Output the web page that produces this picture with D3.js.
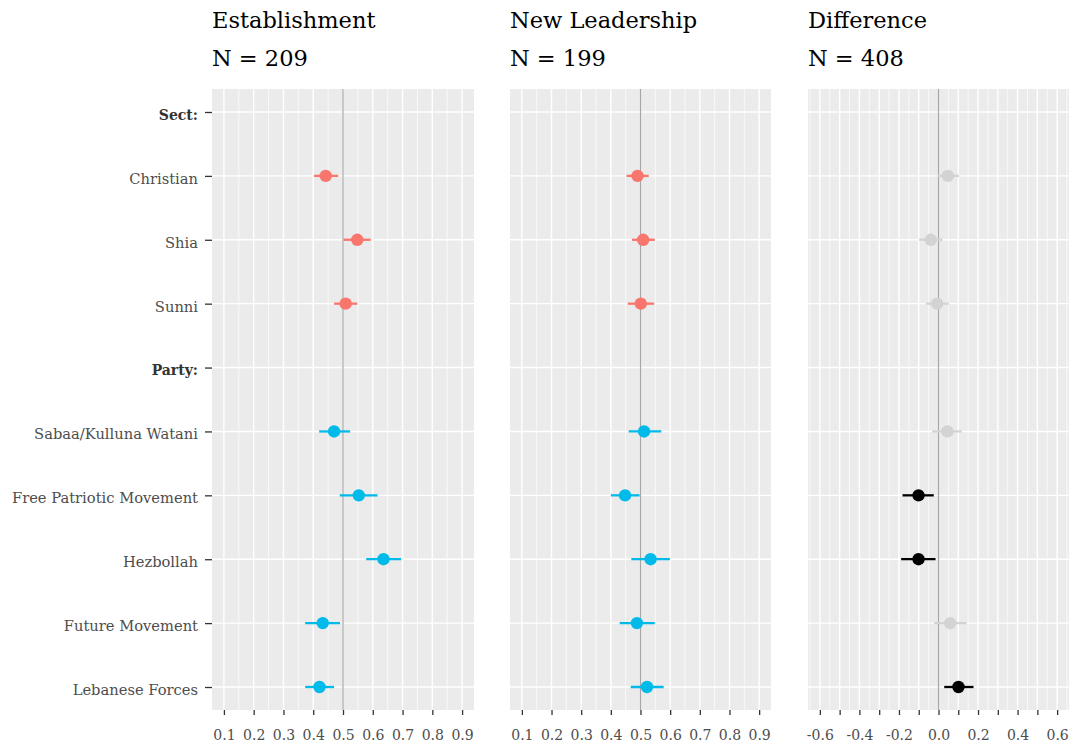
<!DOCTYPE html>
<html>
<head>
<meta charset="utf-8">
<script src="https://cdn.jsdelivr.net/npm/d3@7"></script>
<style>
  html, body { margin: 0; padding: 0; background: #ffffff; }
  svg { display: block; }
  text { font-family: "DejaVu Serif", "Liberation Serif", serif; }
</style>
</head>
<body>
<svg id="chart" width="1073" height="746"></svg>
<script>
// Rows from top to bottom; header rows carry no estimate.
const categories = ["Sect:", "Christian", "Shia", "Sunni", "Party:",
  "Sabaa/Kulluna Watani", "Free Patriotic Movement", "Hezbollah",
  "Future Movement", "Lebanese Forces"];
const headerRows = ["Sect:", "Party:"];
const rowGroup = ["", "sect", "sect", "sect", "", "party", "party", "party", "party", "party"];

// Establishment estimates with confidence bounds
const estMean = [null, 0.442, 0.548, 0.509, null, 0.470, 0.553, 0.636, 0.432, 0.421];
const estLow  = [null, 0.403, 0.502, 0.470, null, 0.420, 0.489, 0.578, 0.373, 0.373];
const estHigh = [null, 0.484, 0.593, 0.548, null, 0.524, 0.616, 0.695, 0.490, 0.470];

// New Leadership estimates with confidence bounds
const newMean = [null, 0.490, 0.509, 0.501, null, 0.512, 0.448, 0.534, 0.488, 0.522];
const newLow  = [null, 0.453, 0.471, 0.457, null, 0.460, 0.400, 0.469, 0.430, 0.467];
const newHigh = [null, 0.528, 0.548, 0.546, null, 0.570, 0.497, 0.599, 0.548, 0.578];

// Difference (New Leadership minus Establishment) with confidence bounds
const diffMean = [null, 0.047, -0.039, -0.007, null, 0.045, -0.101, -0.101, 0.059, 0.101];
const diffLow  = [null, -0.005, -0.098, -0.064, null, -0.032, -0.182, -0.189, -0.022, 0.029];
const diffHigh = [null, 0.104, 0.020, 0.052, null, 0.118, -0.024, -0.015, 0.142, 0.177];
const diffSignificant = [null, false, false, false, null, false, true, true, false, true];

const panelTitles = ["Establishment", "New Leadership", "Difference"];
const panelN = [209, 199, 408];

const probTicks = [0.1, 0.2, 0.3, 0.4, 0.5, 0.6, 0.7, 0.8, 0.9];
const probMinor = [0.15, 0.25, 0.35, 0.45, 0.55, 0.65, 0.75, 0.85];
const diffTicks = [-0.6, -0.5, -0.4, -0.3, -0.2, -0.1, 0, 0.1, 0.2, 0.3, 0.4, 0.5, 0.6];
const diffTickLabels = ["-0.6", "", "-0.4", "", "-0.2", "", "0.0", "", "0.2", "", "0.4", "", "0.6"];
const diffMinor = [-0.65, -0.55, -0.45, -0.35, -0.25, -0.15, -0.05, 0.05, 0.15, 0.25, 0.35, 0.45, 0.55, 0.65];

const groupColor = { sect: "#F8766D", party: "#00BAEA" };
const diffColor = sig => sig ? "#000000" : "#D3D3D3";

const svg = d3.select("#chart");
const panelTop = 89, panelBottom = 710;

const y = d3.scalePoint().domain(categories).range([panelTop, panelBottom]).padding(0.36);

function buildRows(mean, low, high) {
  return categories.map((c, i) => ({ cat: c, i, mean: mean[i], low: low[i], high: high[i] }))
    .filter(d => d.mean !== null);
}

const panels = [
  { left: 212, right: 474, domain: [0.06, 0.94], ref: 0.5, ticks: probTicks, labels: probTicks.map(d3.format(".1f")),
    minor: probMinor, rows: buildRows(estMean, estLow, estHigh), color: d => groupColor[rowGroup[d.i]], yAxis: true },
  { left: 510, right: 771, domain: [0.06, 0.94], ref: 0.5, ticks: probTicks, labels: probTicks.map(d3.format(".1f")),
    minor: probMinor, rows: buildRows(newMean, newLow, newHigh), color: d => groupColor[rowGroup[d.i]], yAxis: false },
  { left: 808, right: 1069, domain: [-0.66, 0.66], ref: 0, ticks: diffTicks, labels: diffTickLabels,
    minor: diffMinor, rows: buildRows(diffMean, diffLow, diffHigh), color: d => diffColor(diffSignificant[d.i]), yAxis: false }
];

panels.forEach((p, k) => {
  const x = d3.scaleLinear().domain(p.domain).range([p.left, p.right]);
  const g = svg.append("g");

  // panel background
  g.append("rect").attr("x", p.left).attr("y", panelTop)
    .attr("width", p.right - p.left).attr("height", panelBottom - panelTop).attr("fill", "#EBEBEB");

  // minor vertical grid
  g.selectAll(".minor").data(p.minor).join("line")
    .attr("x1", d => x(d)).attr("x2", d => x(d)).attr("y1", panelTop).attr("y2", panelBottom)
    .attr("stroke", "#ffffff").attr("stroke-width", 0.7);

  // major vertical grid
  g.selectAll(".majorx").data(p.ticks).join("line")
    .attr("x1", d => x(d)).attr("x2", d => x(d)).attr("y1", panelTop).attr("y2", panelBottom)
    .attr("stroke", "#ffffff").attr("stroke-width", 1.4);

  // horizontal grid at each row
  g.selectAll(".majory").data(categories).join("line")
    .attr("x1", p.left).attr("x2", p.right).attr("y1", d => y(d)).attr("y2", d => y(d))
    .attr("stroke", "#ffffff").attr("stroke-width", 1.4);

  // reference line
  g.append("line").attr("x1", x(p.ref)).attr("x2", x(p.ref)).attr("y1", panelTop).attr("y2", panelBottom)
    .attr("stroke", "#A6A6A6").attr("stroke-width", 1.2);

  // x axis
  const xAxis = d3.axisBottom(x).tickValues(p.ticks).tickSize(5).tickPadding(15)
    .tickFormat((d, i) => p.labels[i]);
  const ax = svg.append("g").attr("transform", `translate(0,${panelBottom})`).call(xAxis);
  ax.select(".domain").remove();
  ax.selectAll(".tick line").attr("stroke", "#333333").attr("stroke-width", 1.3);
  ax.selectAll(".tick text").attr("fill", "#4D4D4D").style("font-size", "14px")
    .style("font-family", "DejaVu Serif, serif");

  // y axis
  const yAxis = d3.axisLeft(y).tickSize(p.yAxis ? 7 : 0).tickPadding(7);
  const ay = svg.append("g").attr("transform", `translate(${p.left},0)`).call(yAxis);
  ay.select(".domain").remove();
  ay.selectAll(".tick line").attr("stroke", "#333333").attr("stroke-width", 1.3);
  if (p.yAxis) {
    ay.selectAll(".tick text").attr("fill", d => headerRows.includes(d) ? "#333333" : "#4D4D4D")
      .attr("dy", "0.5em")
      .style("font-weight", d => headerRows.includes(d) ? "bold" : "normal")
      .style("font-size", d => headerRows.includes(d) ? "14px" : "14.7px")
      .style("font-family", "DejaVu Serif, serif");
  } else {
    ay.selectAll(".tick text").remove();
  }

  // error bars
  g.selectAll(".err").data(p.rows).join("line")
    .attr("x1", d => x(d.low)).attr("x2", d => x(d.high))
    .attr("y1", d => y(d.cat)).attr("y2", d => y(d.cat))
    .attr("stroke", p.color).attr("stroke-width", 2.3);

  // point estimates
  g.selectAll(".pt").data(p.rows).join("circle")
    .attr("cx", d => x(d.mean)).attr("cy", d => y(d.cat)).attr("r", 6.2)
    .attr("fill", p.color);

  // titles
  svg.append("text").attr("x", p.left).attr("y", 28)
    .attr("fill", "#000").style("font-size", "22.5px").text(panelTitles[k]);
  svg.append("text").attr("x", p.left).attr("y", 66)
    .attr("fill", "#000").style("font-size", "22.5px").text(`N = ${panelN[k]}`);
});
</script>
</body>
</html>
